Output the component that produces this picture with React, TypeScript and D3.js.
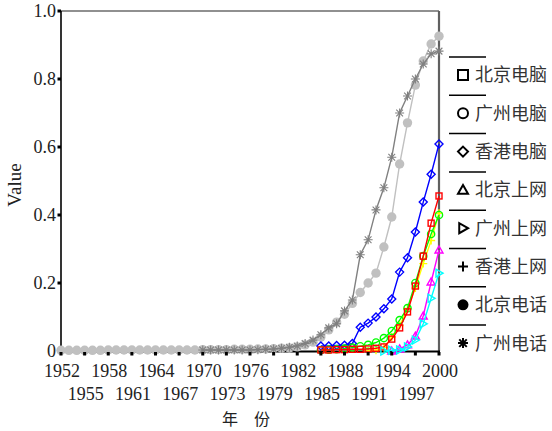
import React from "react";
import * as d3 from "d3";

const W = 552;
const H = 431;

const bjPhoneStart = 1952;
const bjPhone = [
  0.002, 0.002, 0.002, 0.002, 0.002, 0.002, 0.003, 0.003, 0.003, 0.003,
  0.003, 0.003, 0.003, 0.003, 0.003, 0.003, 0.003, 0.003,
  0.004, 0.004, 0.004, 0.004, 0.005, 0.005, 0.005, 0.006, 0.006, 0.007,
  0.008, 0.009, 0.012, 0.018, 0.026, 0.041, 0.062, 0.085, 0.108, 0.14,
  0.172, 0.2, 0.229, 0.306, 0.394, 0.55, 0.671, 0.782, 0.853, 0.903, 0.926,
];
const gzPhoneStart = 1970;
const gzPhone = [
  0.003, 0.003, 0.003, 0.003, 0.003, 0.003, 0.003, 0.004, 0.005, 0.006,
  0.008, 0.011, 0.015, 0.022, 0.032, 0.048, 0.068, 0.08, 0.118, 0.15,
  0.283, 0.327, 0.415, 0.48, 0.57, 0.7, 0.75, 0.8, 0.844, 0.874, 0.882,
];
const pcStart = 1985;
const bjPC = [0.003, 0.003, 0.004, 0.004, 0.005, 0.005, 0.006, 0.008, 0.012, 0.035, 0.068, 0.115, 0.191, 0.279, 0.376, 0.456];
const gzPC = [0.003, 0.004, 0.005, 0.007, 0.01, 0.014, 0.018, 0.025, 0.038, 0.059, 0.091, 0.126, 0.2, 0.279, 0.344, 0.4];
const hkPC = [0.015, 0.015, 0.016, 0.017, 0.022, 0.07, 0.082, 0.1, 0.124, 0.153, 0.232, 0.274, 0.35, 0.438, 0.52, 0.609];
const hkNetStart = 1991;
const hkNet = [0.0, 0.002, 0.01, 0.041, 0.075, 0.125, 0.185, 0.257, 0.325, 0.405];
const bjNetStart = 1994;
const bjNet = [0.0, 0.006, 0.018, 0.044, 0.103, 0.203, 0.297];
const gzNetStart = 1993;
const gzNet = [0.0, 0.002, 0.003, 0.012, 0.032, 0.08, 0.155, 0.229];

const xTicksRow1 = [1952, 1958, 1964, 1970, 1976, 1982, 1988, 1994, 2000];
const xTicksRow2 = [1955, 1961, 1967, 1973, 1979, 1985, 1991, 1997];
const yTicks = [0, 0.2, 0.4, 0.6, 0.8, 1.0];
const yTickLabels = ["0", "0.2", "0.4", "0.6", "0.8", "1.0"];

const legendLabels = ["北京电脑", "广州电脑", "香港电脑", "北京上网", "广州上网", "香港上网", "北京电话", "广州电话"];
const legendMarkers = ["square", "circle", "diamond", "triUp", "triRight", "plus", "dot", "star"];

type Series = { start: number; values: number[]; color: string; marker: string; size: number; sw: number };

const series: Series[] = [
  { start: bjPhoneStart, values: bjPhone, color: "#c0c0c0", marker: "dot", size: 4.7, sw: 1.4 },
  { start: gzPhoneStart, values: gzPhone, color: "#808080", marker: "star", size: 4.5, sw: 1.1 },
  { start: pcStart, values: hkPC, color: "#0000ff", marker: "diamond", size: 4, sw: 1.4 },
  { start: hkNetStart, values: hkNet, color: "#ffff00", marker: "plus", size: 4, sw: 1.4 },
  { start: pcStart, values: gzPC, color: "#00ff00", marker: "circle", size: 3.6, sw: 1.4 },
  { start: pcStart, values: bjPC, color: "#ff0000", marker: "square", size: 3, sw: 1.4 },
  { start: bjNetStart, values: bjNet, color: "#ff00ff", marker: "triUp", size: 4, sw: 1.4 },
  { start: gzNetStart, values: gzNet, color: "#00ffff", marker: "triRight", size: 4, sw: 1.4 },
];

function Marker({ type, x, y, s, color, sw }: { type: string; x: number; y: number; s: number; color: string; sw: number }) {
  const common = { fill: "none", stroke: color, strokeWidth: sw };
  switch (type) {
    case "square":
      return <rect x={x - s} y={y - s} width={2 * s} height={2 * s} {...common} />;
    case "circle":
      return <circle cx={x} cy={y} r={s} {...common} />;
    case "dot":
      return <circle cx={x} cy={y} r={s} fill={color} stroke="none" />;
    case "diamond":
      return <path d={`M${x},${y - s}L${x + s},${y}L${x},${y + s}L${x - s},${y}Z`} {...common} />;
    case "triUp":
      return <path d={`M${x},${y - s}L${x + s},${y + s * 0.75}L${x - s},${y + s * 0.75}Z`} {...common} />;
    case "triRight":
      return <path d={`M${x + s},${y}L${x - s * 0.75},${y - s}L${x - s * 0.75},${y + s}Z`} {...common} />;
    case "plus":
      return <path d={`M${x - s},${y}H${x + s}M${x},${y - s}V${y + s}`} {...common} />;
    case "star": {
      const d = s * 0.75;
      return (
        <path
          d={`M${x - s},${y}H${x + s}M${x},${y - s}V${y + s}M${x - d},${y - d}L${x + d},${y + d}M${x - d},${y + d}L${x + d},${y - d}`}
          {...common}
        />
      );
    }
    default:
      return null;
  }
}

export default function App() {
  const x = d3.scaleLinear().domain([1952, 2000]).range([61, 439]);
  const y = d3.scaleLinear().domain([0, 1]).range([351, 11]);
  const line = d3
    .line<[number, number]>()
    .x((d) => x(d[0]))
    .y((d) => y(d[1]));

  const numFont = "'Liberation Serif', 'Times New Roman', serif";
  const cjkFont = "'Noto Sans CJK SC', sans-serif";

  const legendY0 = 57;
  const legendStep = 38.3;

  return (
    <svg width={W} height={H} style={{ position: "absolute", left: 0, top: 0, background: "#fff" }}>
      <rect x={0} y={0} width={W} height={H} fill="#fff" />
      {/* frame */}
      <line x1={61} y1={y(1)} x2={439} y2={y(1)} stroke="#222" strokeWidth={1.2} />
      <line x1={439} y1={y(1)} x2={439} y2={y(0)} stroke="#606060" strokeWidth={2.2} />
      <line x1={61} y1={y(1)} x2={61} y2={y(0)} stroke="#000" strokeWidth={1.6} />

      {/* y ticks */}
      {yTicks.map((t, i) => (
        <g key={"yt" + i}>
          <rect x={57.5} y={y(t) - 1.5} width={3.5} height={3} fill="#000" />
          <text x={56} y={y(t)} dy="0.35em" textAnchor="end" fontFamily={numFont} fontSize={18} fill="#222">
            {yTickLabels[i]}
          </text>
        </g>
      ))}

      {/* bottom axis (under data) */}
      <line x1={60} y1={y(0) + 0.5} x2={440} y2={y(0) + 0.5} stroke="#000" strokeWidth={2} />

      {/* series */}
      {series.map((s, si) => {
        const pts: [number, number][] = s.values.map((v, i) => [s.start + i, v]);
        return (
          <g key={"s" + si}>
            <path d={line(pts) || ""} fill="none" stroke={s.color} strokeWidth={1.4} />
            {pts.map((p, i) => (
              <Marker key={i} type={s.marker} x={x(p[0])} y={y(p[1])} s={s.size} color={s.color} sw={s.sw} />
            ))}
          </g>
        );
      })}

      {[...xTicksRow1, ...xTicksRow2].map((t) => (
        <rect key={"xt" + t} x={x(t) - 1.5} y={y(0) + 1} width={3} height={3.5} fill="#000" />
      ))}
      {xTicksRow1.map((t) => (
        <text key={"xl1" + t} x={x(t) + 1} y={377} textAnchor="middle" fontFamily={numFont} fontSize={18} fill="#222">
          {t}
        </text>
      ))}
      {xTicksRow2.map((t) => (
        <text key={"xl2" + t} x={x(t) + 1} y={400} textAnchor="middle" fontFamily={numFont} fontSize={18} fill="#222">
          {t}
        </text>
      ))}
      <text x={246} y={425} textAnchor="middle" fontFamily={cjkFont} fontSize={16} fill="#222">
        年　份
      </text>
      <text
        transform={`translate(21,${(y(0) + y(1)) / 2 + 4}) rotate(-90)`}
        textAnchor="middle"
        fontFamily={numFont}
        fontSize={19}
        fill="#222"
      >
        Value
      </text>

      {/* legend */}
      {legendLabels.map((lab, i) => {
        const ly = legendY0 + i * legendStep;
        const ty = ly + 18;
        return (
          <g key={"lg" + i}>
            <line x1={449} y1={ly} x2={486} y2={ly} stroke="#000" strokeWidth={1.5} />
            <Marker type={legendMarkers[i]} x={463} y={ty} s={legendMarkers[i] === "dot" ? 5.5 : 5} color="#000" sw={2} />
            <text x={475} y={ty} dy="0.36em" fontFamily={cjkFont} fontSize={18} fill="#333">
              {lab}
            </text>
          </g>
        );
      })}
    </svg>
  );
}
